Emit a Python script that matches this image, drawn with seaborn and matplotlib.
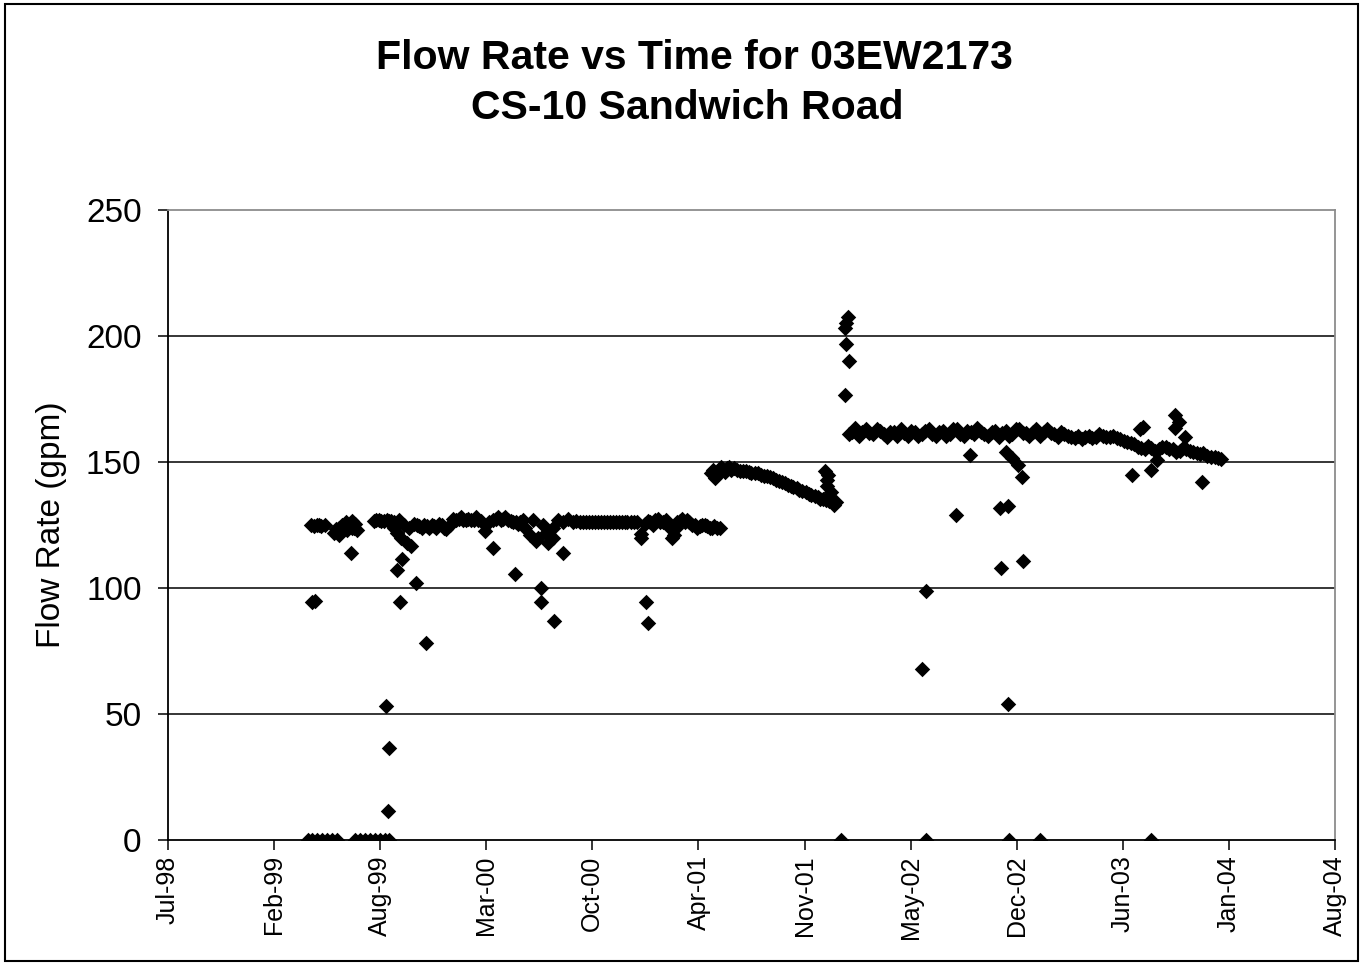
import numpy as np
import pandas as pd
import matplotlib
matplotlib.use("Agg")
import matplotlib.pyplot as plt
import matplotlib.dates as mdates
from matplotlib.patches import Rectangle
import seaborn as sns

# ---------------- data (dates as Excel serial day numbers, flow in gpm) ----------------
AXIS_START_SERIAL = 36000      # Jul-98
AXIS_STEP_DAYS = 200
N_TICKS = 12

startup_dates = [36270, 36275, 36280, 36284, 36289, 36296, 36272, 36278,
                 36263, 36272, 36281, 36291, 36300, 36309, 36319,
                 36353, 36362, 36371, 36381, 36390, 36399, 36409, 36416,
                 36313, 36317, 36323, 36328, 36332, 36337, 36341, 36346, 36351, 36353, 36356,
                 36323, 36335, 36346, 36345]
startup_flow = [125, 124.5, 125, 125, 124.5, 125, 94.5, 95,
                0, 0, 0, 0, 0, 0, 0,
                0, 0, 0, 0, 0, 0, 0, 0,
                122, 123.5, 124, 125, 124.5, 123, 125, 124, 124, 125.5, 123,
                121, 126, 126.5, 114]

plateau1_dates = [36388, 36393, 36398, 36402, 36407, 36412, 36416, 36421, 36426, 36431, 36439, 36444,
                  36450, 36454, 36458, 36435, 36426,
                  36464, 36469, 36474, 36478, 36483, 36488, 36492, 36497, 36502, 36506, 36511, 36516,
                  36520, 36525, 36531, 36538, 36543, 36548, 36552, 36557, 36562, 36566, 36571, 36576,
                  36580, 36585, 36590, 36598, 36605, 36613, 36618, 36623, 36627, 36632, 36636, 36641,
                  36646, 36651, 36656, 36660, 36669, 36664, 36673, 36683, 36688, 36698,
                  36707, 36713, 36694, 36716, 36726, 36735, 36744, 36754, 36763, 36726,
                  36770, 36776, 36782, 36788, 36794, 36799, 36805, 36810, 36816, 36821, 36827, 36833,
                  36838, 36844, 36850, 36855, 36861, 36866, 36872, 36878, 36884,
                  36891, 36900, 36905, 36909, 36914, 36919, 36924, 36928, 36933, 36938, 36943, 36947,
                  36953, 36957, 36960, 36965, 36969, 36974, 36979, 36983, 36988, 36993,
                  36998, 37003, 37007, 37012, 37016, 37021, 37026, 37030, 37035, 37041]
plateau1_flow = [126.5, 127, 127, 126.5, 126.5, 127, 126.5, 126.5, 126, 122, 120, 125,
                 118, 124, 116.6, 127, 124,
                 125.5, 125, 124.5, 124, 125, 124.5, 124, 125, 124.5, 124, 125.5, 125,
                 124, 123.5, 125, 127.5, 127, 127.5, 128, 127, 127, 127.5, 127, 127,
                 128, 127, 126.5, 122.5, 126, 127, 127.5, 128, 127, 127.5, 128, 127,
                 126.5, 126, 126, 125.5, 127, 126, 124, 121, 127, 120,
                 125, 122, 118.5, 118, 124, 127, 126, 127.5, 126, 120,
                 126.5, 126, 126, 126, 126, 126, 126, 126, 126, 126, 126, 126,
                 126, 126, 126, 126, 126, 126, 126, 126, 126,
                 121.5, 125.5, 126.5, 126, 125, 127, 127.5, 126, 126, 127, 125.5, 124,
                 121, 124, 126, 126.5, 127.5, 126, 127, 126, 125, 125,
                 124, 124.5, 125, 125, 124.5, 124, 124, 124.5, 124, 124]

plateau1_low_dates = [36411, 36416, 36414, 36437, 36431, 36441, 36467, 36486, 36613, 36655,
                      36703, 36703, 36728, 36744, 36902, 36904, 36891, 36951]
plateau1_low_flow = [53, 36.5, 11.5, 94.5, 107, 111.5, 102, 78, 116, 105.5,
                     100, 94.5, 87, 114, 94.5, 86, 120, 120]

curve_dates = [37024, 37028, 37031, 37035, 37039, 37043, 37046, 37050, 37054, 37057, 37061, 37067,
               37073, 37078, 37084, 37090, 37095, 37100, 37106, 37112, 37118, 37123,
               37129, 37134, 37140, 37146, 37151, 37157, 37163, 37168, 37174, 37179, 37185, 37190,
               37196, 37202, 37208, 37213, 37219, 37225, 37230, 37235, 37241, 37247,
               37253, 37260, 37239, 37245, 37243, 37243, 37249, 37256]
curve_flow = [145.5, 147, 143.5, 145, 146.5, 148, 147, 146, 147.5, 148, 147, 147.5,
              147, 146.5, 146.5, 146.5, 146, 145.5, 145.5, 145.5, 145, 144.5,
              144.5, 144, 143.5, 143, 142.5, 142, 141.5, 141, 140.5, 140, 139.5, 139,
              138.5, 138, 137.5, 137, 136.5, 136, 135.5, 135.5, 135, 134.5,
              134.5, 134, 146.5, 145, 143, 140.5, 138, 133]

spike_dates = [37281, 37279, 37277, 37279, 37284, 37277, 37269]
spike_flow = [207.5, 205, 203, 197, 190, 176.5, 0]

plateau2_dates = [37283, 37290, 37296, 37303, 37309, 37316, 37322, 37329, 37336, 37343, 37349, 37356,
                  37362, 37369, 37375, 37382, 37388, 37395, 37401, 37408, 37414, 37421, 37427, 37434,
                  37441, 37448, 37454, 37461, 37467, 37474, 37480, 37487, 37493, 37500, 37506, 37513,
                  37519, 37526, 37532, 37539, 37546, 37553, 37559, 37566, 37572, 37579, 37585, 37592,
                  37598, 37605, 37611, 37618, 37624, 37631, 37637, 37644, 37651, 37658, 37664, 37671,
                  37677, 37684, 37690, 37697, 37703, 37710, 37716, 37723, 37729, 37736, 37742, 37749,
                  37756, 37763, 37769, 37776, 37782, 37789, 37795, 37802, 37808, 37815, 37821, 37828,
                  37834, 37841, 37847, 37854, 37860, 37868, 37874, 37881, 37887, 37894, 37900, 37907,
                  37913, 37920, 37926, 37933, 37939, 37946, 37952, 37959, 37966, 37973, 37979, 37986]
plateau2_flow = [161, 162, 163.5, 160.5, 162, 163, 161.5, 161, 163, 162.5, 161, 160,
                 162, 162, 160.5, 163, 161.5, 160.5, 162.5, 162, 160.5, 161, 162.5, 163,
                 161, 160.5, 162, 162.5, 160.5, 161, 163, 163, 161, 160.5, 162.5, 162,
                 161, 163.5, 162, 161, 160.5, 162, 162.5, 160, 161.5, 162.5, 160.5, 161,
                 163, 163, 161.5, 161.5, 160.5, 162, 163, 160.5, 162, 163, 161.5, 161,
                 160, 162, 161, 160.5, 160, 159.5, 160.5, 159, 160, 160.5, 159.5, 160,
                 161, 160.5, 160, 160, 160.5, 159.5, 159, 158.5, 158, 157.5, 157, 156,
                 155.5, 155, 156.5, 155.5, 154.5, 155, 156, 156, 155, 155, 154, 154.5,
                 155.5, 155, 154.5, 154, 153.5, 153, 153.5, 152.5, 152, 152, 151.5, 151]

plateau2_scatter_dates = [37421, 37429, 37429, 37485, 37511, 37569, 37583, 37571, 37611, 37584,
                          37579, 37592, 37603, 37609, 37586, 37643,
                          37832, 37838, 37899, 37905, 37899, 37918, 37817, 37854, 37864, 37950, 37854]
plateau2_scatter_flow = [67.8, 99, 0, 129, 152.6, 131.6, 132.4, 108, 110.7, 53.8,
                         154, 151.5, 149, 144, 0, 0,
                         163, 164, 168.5, 166, 163.3, 160, 145, 147, 150.6, 141.9, 0]

Y_TICKS = [0, 50, 100, 150, 200, 250]
GRID_VALUES = [50, 100, 150, 200]

# ---------------- build frame ----------------
serials = (startup_dates + plateau1_dates + plateau1_low_dates + curve_dates + spike_dates
           + plateau2_dates + plateau2_scatter_dates)
flows = (startup_flow + plateau1_flow + plateau1_low_flow + curve_flow + spike_flow
         + plateau2_flow + plateau2_scatter_flow)
df = pd.DataFrame({"serial": serials, "flow": flows})
df["date"] = pd.to_datetime(df["serial"], unit="D", origin="1899-12-30")

sns.set_style("white")
plt.rcParams["font.family"] = ["Liberation Sans", "DejaVu Sans"]
plt.rcParams["text.color"] = "black"
plt.rcParams["axes.labelcolor"] = "black"

fig = plt.figure(figsize=(13.64, 9.65), dpi=100)
ax = fig.add_axes([168 / 1364, 125 / 965, 1167 / 1364, 630 / 965])

for g in GRID_VALUES:
    ax.axhline(g, color="black", lw=1.1, zorder=0.5)

sns.scatterplot(data=df, x="date", y="flow", marker="D", color="black", s=62,
                linewidth=0, ax=ax, legend=False, zorder=3)

start = pd.Timestamp("1899-12-30") + pd.Timedelta(days=AXIS_START_SERIAL)
ticks = pd.date_range(start, periods=N_TICKS, freq=f"{AXIS_STEP_DAYS}D")
ax.set_xlim(ticks[0], ticks[-1])
ax.set_xticks(ticks)
ax.xaxis.set_major_formatter(mdates.DateFormatter("%b-%y"))
ax.set_ylim(0, 250)
ax.set_yticks(Y_TICKS)

ax.tick_params(axis="x", rotation=90, labelsize=18, length=7, width=1.1,
               direction="out", pad=4, colors="black", bottom=True)
ax.tick_params(axis="y", labelsize=24, length=7, width=1.1, direction="out",
               pad=12, colors="black", left=True)
ax.set_xlabel("")
ax.set_ylabel("Flow Rate (gpm)", fontsize=24, labelpad=14, color="black")

for side in ["left", "bottom"]:
    ax.spines[side].set_color("black")
    ax.spines[side].set_linewidth(1.3)
for side in ["top", "right"]:
    ax.spines[side].set_color("#8c8c8c")
    ax.spines[side].set_linewidth(1.3)
    ax.spines[side].set_visible(True)

fig.text(0.509, 0.940, "Flow Rate vs Time for 03EW2173", ha="center", va="center",
         fontsize=29.5, fontweight="bold", color="black")
fig.text(0.504, 0.888, "CS-10 Sandwich Road", ha="center", va="center",
         fontsize=29.5, fontweight="bold", color="black")

fig.patches.append(Rectangle((5 / 1364, 4 / 965), 1353 / 1364, 957 / 965,
                             transform=fig.transFigure, fill=False,
                             edgecolor="black", lw=1.5))

fig.savefig("out.png", dpi=100)
